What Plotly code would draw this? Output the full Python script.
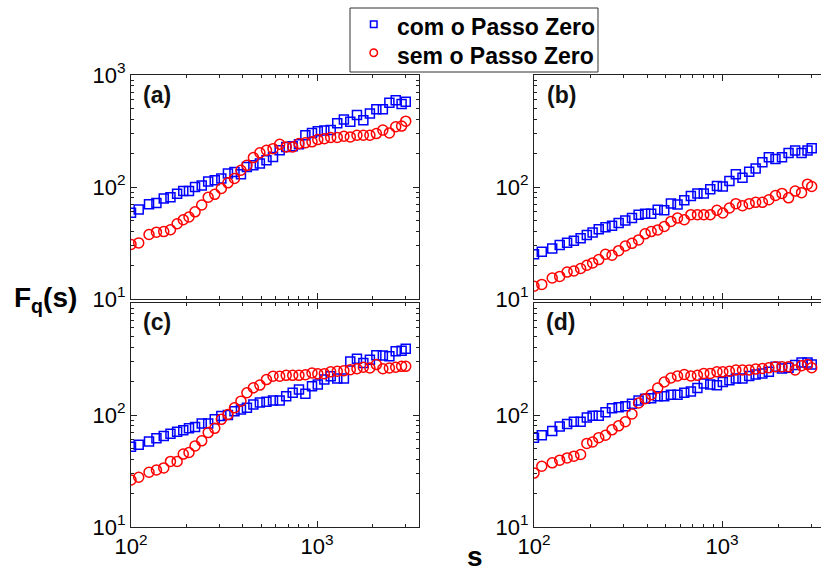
import plotly.graph_objects as go

# ---------------- data ----------------
S = [100, 110, 125, 137, 150, 163, 177, 191, 205, 221, 240, 260, 282, 306, 332, 360, 390, 420, 455, 493,
     535, 580, 630, 683, 740, 800, 866, 940, 1010, 1095, 1185, 1285, 1395, 1510, 1640, 1775, 1925, 2085,
     2260, 2450, 2650, 2850, 3000]

a_com = [59, 63, 70, 72, 79, 81, 87, 92, 92, 100, 103, 112, 115, 119, 132, 136, 130, 151, 156, 162,
         173, 185, 213, 228, 231, 241, 290, 304, 315, 320, 322, 370, 400, 383, 439, 395, 454, 494,
         494, 565, 596, 550, 577]
a_sem = [30.7, 31.7, 37.7, 39.5, 40, 41.5, 47, 51, 54, 60, 69, 81, 86, 97, 109, 119, 141, 156, 183, 202,
         213, 220, 241, 228, 228, 244, 248, 253, 265, 270, 277, 277, 284, 280, 290, 290, 290, 300,
         322, 304, 345, 350, 387]

b_com = [25.1, 26.4, 28.3, 30.3, 31.8, 33.1, 34.9, 37.3, 39.3, 42, 43.8, 45, 47.6, 50.3, 52.8, 56.6, 57.8,
         57.8, 62.8, 62, 71.2, 69.7, 76.3, 82.9, 87.6, 87.6, 95.3, 102, 101, 113, 130, 121, 137, 146,
         166, 184, 178, 184, 201, 212, 201, 212, 222]
b_sem = [13.0, 13.5, 15.4, 15.9, 17.4, 17.8, 18.7, 20, 21, 22.5, 25.1, 24.6, 27, 29.7, 31.4, 33.7, 38.2,
         40, 41.4, 44.4, 49.3, 52.8, 51, 56.6, 56.6, 56.6, 56.6, 62, 58.6, 65, 71, 68, 71, 73, 73, 77,
         84, 87.6, 80, 92, 89, 106, 101]

c_com = [52, 54.2, 58, 62, 65, 68, 71, 73, 76, 78, 84, 84, 91.5, 98, 100, 108, 112, 116, 124, 129,
         131, 135, 135, 147, 158, 169, 155, 181, 187, 207, 222, 212, 212, 301, 318, 292, 312, 341,
         339, 335, 370, 375, 391]
c_sem = [26.3, 27.8, 30.8, 32.3, 33.7, 38.5, 38.5, 44.8, 46.3, 53, 58.8, 69.7, 76, 91.5, 101, 116, 133,
         158, 175, 185, 207, 222, 222, 226, 226, 226, 229, 237, 233, 234, 243, 246, 249, 254, 259,
         267, 263, 282, 259, 263, 267, 272, 272]

d_com = [62.8, 66, 72, 79, 83, 87, 87, 95, 98.6, 98.6, 106, 115, 117, 120, 126, 135, 140, 141, 147, 147,
         152, 152, 158, 162, 174, 191, 187, 184, 197, 204, 212, 212, 223, 230, 235, 243, 270, 260,
         264, 279, 295, 295, 283]
d_sem = [30.3, 34.9, 37.4, 39.5, 41.4, 42.9, 44.4, 55.8, 57.4, 62.8, 65.9, 73.7, 80, 87, 102, 128, 140,
         152, 174, 197, 214, 223, 230, 223, 226, 235, 235, 243, 243, 246, 252, 252, 252, 257, 260,
         264, 270, 270, 270, 252, 275, 283, 264]

SERIES_NAMES = ["com o Passo Zero", "sem o Passo Zero"]
PANEL_LABELS = ["(a)", "(b)", "(c)", "(d)"]
TICK_VALS = [10, 100, 1000]
TICK_TEXT = ["10<sup>1</sup>", "10<sup>2</sup>", "10<sup>3</sup>"]
MINOR_VALS = [20, 30, 40, 50, 60, 70, 80, 90, 200, 300, 400, 500, 600, 700, 800, 900, 2000, 3000]

BLUE = "#0000FF"
RED = "#FF0000"

# ---------------- layout geometry ----------------
W, H = 821, 574
FONT = "Liberation Sans, Arial, sans-serif"

def px_x(p):
    return p / W

def px_y(p):
    return 1 - p / H

panels = [
    dict(data=(a_com, a_sem), xdom=[px_x(131), px_x(419)], ydom=[px_y(299), px_y(75)],
         xr=[2, 2 + 288 / 186], xlab=False, ylab=[0, 1, 2], mirror_y=True, lab=(141, 95)),
    dict(data=(b_com, b_sem), xdom=[px_x(534), 1.0], ydom=[px_y(299), px_y(75)],
         xr=[2, 2 + 287 / 188], xlab=False, ylab=[0, 1], mirror_y=False, lab=(545, 95)),
    dict(data=(c_com, c_sem), xdom=[px_x(131), px_x(419)], ydom=[px_y(527), px_y(303)],
         xr=[2, 2 + 288 / 186], xlab=True, ylab=[0, 1], mirror_y=True, lab=(141, 322)),
    dict(data=(d_com, d_sem), xdom=[px_x(534), 1.0], ydom=[px_y(527), px_y(303)],
         xr=[2, 2 + 287 / 188], xlab=True, ylab=[0, 1], mirror_y=False, lab=(544, 322)),
]

fig = go.Figure()
layout = dict(
    template="none",
    width=W, height=H, margin=dict(l=0, r=0, t=0, b=0, pad=0, autoexpand=False),
    paper_bgcolor="white", plot_bgcolor="white",
    font=dict(family=FONT, color="black"),
    showlegend=False,
)

annotations = []
shapes = []
for i, p in enumerate(panels):
    n = "" if i == 0 else str(i + 1)
    xa, ya = "x" + n, "y" + n
    com, sem = p["data"]
    fig.add_trace(go.Scatter(x=S, y=com, mode="markers", name=SERIES_NAMES[0], xaxis=xa, yaxis=ya,
                             marker=dict(symbol="square-open", size=9, color=BLUE,
                                         line=dict(width=1.5, color=BLUE))))
    fig.add_trace(go.Scatter(x=S, y=sem, mode="markers", name=SERIES_NAMES[1], xaxis=xa, yaxis=ya,
                             marker=dict(symbol="circle-open", size=10, color=RED,
                                         line=dict(width=1.5, color=RED))))
    common = dict(type="log", showgrid=False, zeroline=False, showline=True, linecolor="#222222",
                  linewidth=1, ticks="inside", ticklen=6, tickcolor="#222222", automargin=False,
                  tickfont=dict(family=FONT, size=22, color="black"),
                  tickmode="array", tickvals=TICK_VALS,
                  minor=dict(tickmode="array", tickvals=MINOR_VALS, ticks="inside", ticklen=3,
                             tickcolor="#222222", showgrid=False))
    xaxis = dict(common, domain=p["xdom"], range=p["xr"], anchor=ya, mirror="ticks",
                 ticktext=TICK_TEXT if p["xlab"] else ["", "", ""], showticklabels=p["xlab"])
    yt = [TICK_TEXT[k] if k in p["ylab"] else "" for k in range(3)]
    yaxis = dict(common, domain=p["ydom"], range=[1, 3], anchor=xa,
                 mirror="ticks" if p["mirror_y"] else False, ticktext=yt)
    layout["xaxis" + n] = xaxis
    layout["yaxis" + n] = yaxis
    lx, ly = p["lab"]
    annotations.append(dict(text="<b>" + PANEL_LABELS[i] + "</b>", xref="paper", yref="paper",
                            x=px_x(lx), y=px_y(ly), xanchor="left", yanchor="middle", showarrow=False,
                            font=dict(family=FONT, size=23, color="#111111")))

# axis titles
annotations.append(dict(text="<b>F<sub>q</sub>(s)</b>", xref="paper", yref="paper",
                        x=px_x(12), y=px_y(299), xanchor="left", yanchor="middle", showarrow=False,
                        font=dict(family=FONT, size=28, color="black")))
annotations.append(dict(text="<b>s</b>", xref="paper", yref="paper",
                        x=px_x(475), y=0, xanchor="center", yanchor="bottom", showarrow=False,
                        font=dict(family=FONT, size=28, color="black")))

# legend box (drawn as decoration)
shapes.append(dict(type="rect", xref="paper", yref="paper", x0=px_x(350), x1=px_x(598),
                   y0=px_y(72), y1=px_y(8), line=dict(color="#333333", width=1), fillcolor="white",
                   layer="above"))
shapes.append(dict(type="rect", xref="paper", yref="paper", x0=px_x(370.5), x1=px_x(377),
                   y0=px_y(27.5), y1=px_y(21), line=dict(color=BLUE, width=1.5), layer="above"))
shapes.append(dict(type="circle", xref="paper", yref="paper", x0=px_x(370), x1=px_x(377.5),
                   y0=px_y(56.5), y1=px_y(49), line=dict(color=RED, width=1.5), layer="above"))
for k, (name, yc) in enumerate(zip(SERIES_NAMES, [27, 56])):
    annotations.append(dict(text="<b>" + name + "</b>", xref="paper", yref="paper",
                            x=px_x(395), y=px_y(yc), xanchor="left", yanchor="middle", showarrow=False,
                            font=dict(family=FONT, size=23, color="black")))

layout["annotations"] = annotations
layout["shapes"] = shapes
fig.update_layout(**layout)
fig.write_html("out.html")
